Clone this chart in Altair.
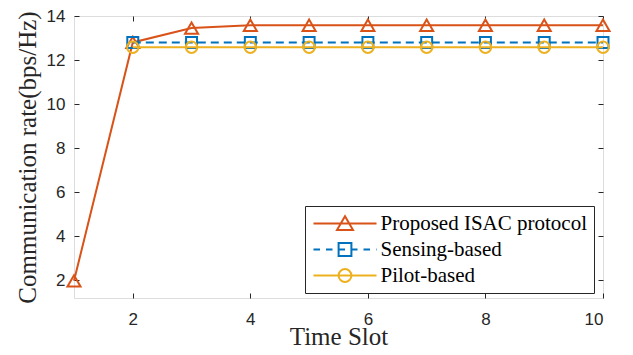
import altair as alt
import pandas as pd

# ---------------- data ----------------
slots = [1, 2, 3, 4, 5, 6, 7, 8, 9, 10]
proposed = [1.98, 12.8, 13.45, 13.58, 13.58, 13.58, 13.58, 13.58, 13.58, 13.58]
sensing = [None, 12.8, 12.8, 12.8, 12.8, 12.8, 12.8, 12.8, 12.8, 12.8]
pilot = [None, 12.58, 12.58, 12.58, 12.58, 12.58, 12.58, 12.58, 12.58, 12.58]
names = ["Proposed ISAC protocol", "Sensing-based", "Pilot-based"]
x_ticks = [2, 4, 6, 8, 10]
y_ticks = [2, 4, 6, 8, 10, 12, 14]

colors = ["#D95319", "#0072BD", "#EDB120"]
markers = ["triangle-up", "square", "circle"]
marker_sizes = [170, 120, 130]

rows = []
for name, vals in zip(names, [proposed, sensing, pilot]):
    for s, v in zip(slots, vals):
        if v is not None:
            rows.append({"slot": s, "rate": v, "series": name})
df = pd.DataFrame(rows)

W, H = 529, 282
TOP = 8
AX = "#262626"
SANS = "Liberation Sans"
SERIF = "Liberation Serif"

xscale = alt.Scale(domain=[1, 10], nice=False, zero=False)
yscale = alt.Scale(domain=[1.2, 14], nice=False, zero=False)

# legend symbols: line + marker drawn as one custom path (unit = 8 px)
def dashed(segs):
    return "".join(f"M{a},0H{b}" for a, b in segs)

solid = "M-3.94,0H3.94"
dash_line = dashed([(-3.94, -3.125), (-2.375, -1.5625), (-0.8125, 0.0),
                    (0.75, 1.5625), (2.3125, 3.125), (3.875, 3.94)])
legend_paths = [
    solid + "M0,-0.9L1,0.8H-1Z",
    dash_line + "M-0.8,-0.8H0.8V0.8H-0.8Z",
    solid + "M0.8,0A0.8,0.8,0,1,1,-0.8,0A0.8,0.8,0,1,1,0.8,0Z",
]

# ---------------- axes ----------------
x_main = alt.Axis(values=x_ticks, orient="bottom", domain=False, ticks=False, tickSize=0,
                  grid=False, labelFont=SANS, labelFontSize=17, labelColor=AX,
                  labelPadding=13, title="Time Slot", titleFont=SERIF, titleFontSize=25,
                  titleFontWeight="normal", titleColor=AX, titleY=46,
                  titleBaseline="alphabetic")
y_main = alt.Axis(values=y_ticks, orient="left", domain=False, ticks=False, tickSize=0,
                  grid=False, labelFont=SANS, labelFontSize=17, labelColor=AX,
                  labelPadding=9, title="Communication rate(bps/Hz)", titleFont=SERIF,
                  titleFontSize=25, titleFontWeight="normal", titleColor=AX,
                  titleX=-47, titleBaseline="middle")
# inward ticks at bottom / left
x_in_bottom = alt.Axis(values=x_ticks, orient="top", offset=-H, domain=False, ticks=True,
                       tickSize=5, tickColor=AX, labels=False, grid=False, title=None)
y_in_left = alt.Axis(values=y_ticks, orient="right", offset=-W, domain=False, ticks=True,
                     tickSize=5, tickColor=AX, labels=False, grid=False, title=None)
# inward ticks at top / right
x_in_top = alt.Axis(values=x_ticks, orient="bottom", offset=-H, domain=False, ticks=True,
                    tickSize=5, tickColor=AX, labels=False, grid=False, title=None)
y_in_right = alt.Axis(values=y_ticks, orient="left", offset=-W, domain=False, ticks=True,
                      tickSize=5, tickColor=AX, labels=False, grid=False, title=None)

axis_sets = [(x_main, y_main), (x_in_bottom, y_in_left), (x_in_top, y_in_right)]

layers = []
k = 0
for i, name in enumerate(names):
    base = alt.Chart(df).transform_filter(alt.datum.series == name)
    for kind in ("line", "point"):
        if k < len(axis_sets):
            xa, ya = axis_sets[k]
        else:
            xa, ya = None, None
        k += 1
        enc = dict(
            x=alt.X("slot:Q", scale=xscale, axis=xa, title=None if xa is None else alt.Undefined),
            y=alt.Y("rate:Q", scale=yscale, axis=ya, title=None if ya is None else alt.Undefined),
        )
        if kind == "line":
            if i == 1:
                m = base.mark_line(color=colors[i], strokeWidth=2, strokeDash=[8, 5])
            else:
                m = base.mark_line(color=colors[i], strokeWidth=2)
        else:
            m = base.mark_point(shape=markers[i], filled=False, size=marker_sizes[i],
                                color=colors[i], strokeWidth=2, opacity=1)
        layers.append(m.encode(**enc))

leg = alt.Legend(orient="none", legendX=231, legendY=198 - TOP, title=None,
                 labelFont=SERIF, labelFontSize=21, labelColor="black", labelLimit=400,
                 symbolSize=256, symbolStrokeWidth=2, symbolOpacity=1,
                 symbolOffset=22.5, labelOffset=25, padding=7, rowPadding=4,
                 strokeColor=AX, fillColor="white")

# legend-only layer: no rows are drawn, the legend comes from the scale domains
legend_layer = alt.Chart(df).transform_filter(alt.datum.slot < 0).mark_point(
    filled=False, strokeWidth=2).encode(
    x=alt.X("slot:Q", scale=xscale, axis=None),
    y=alt.Y("rate:Q", scale=yscale, axis=None),
    color=alt.Color("series:N", scale=alt.Scale(domain=names, range=colors), legend=leg),
    shape=alt.Shape("series:N", scale=alt.Scale(domain=names, range=legend_paths), legend=leg),
)
layers.append(legend_layer)

chart = alt.layer(*layers).resolve_axis(x="independent", y="independent").properties(
    width=W, height=H,
    autosize=alt.AutoSizeParams(type="none"),
    padding={"left": 66, "top": TOP, "right": 22, "bottom": 339 - TOP - H},
).configure_view(stroke=AX, strokeWidth=1).configure(background="white")

chart.save("out.html", embed_options={"renderer": "svg", "actions": False})
